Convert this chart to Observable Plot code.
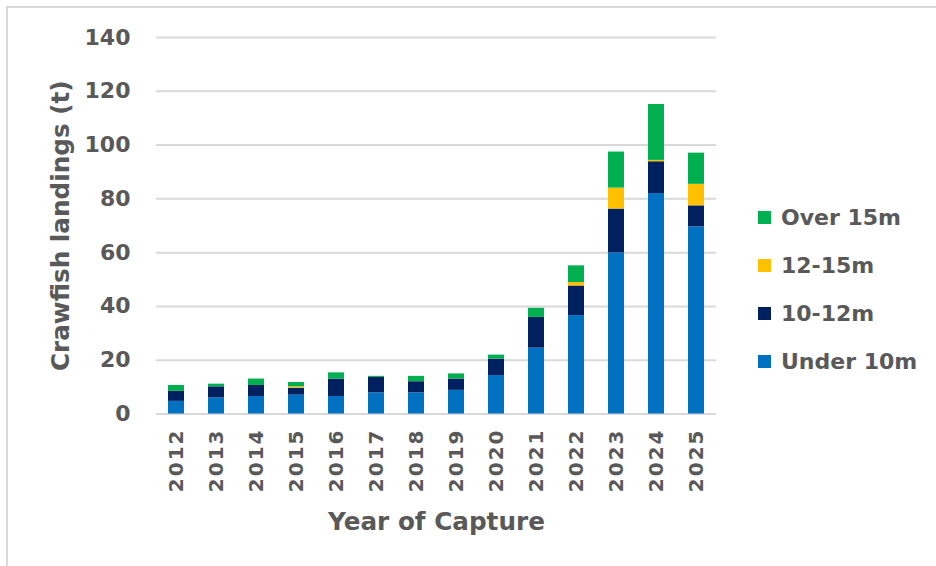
<!DOCTYPE html>
<html>
<head>
<meta charset="utf-8">
<script src="https://cdn.jsdelivr.net/npm/d3@7"></script>
<script src="https://cdn.jsdelivr.net/npm/@observablehq/plot@0.6"></script>
<style>
  html, body { margin: 0; padding: 0; background: #fff; }
  #wrap { position: relative; width: 936px; height: 566px; overflow: hidden; background: #fff; }
  #frame { position: absolute; left: 6px; top: 6px; right: -10px; bottom: -10px;
           border-top: 2px solid #d9d9d9; border-left: 2px solid #d9d9d9; pointer-events: none; }
  #chart svg { display: block; }
  #chart g[aria-label="x-axis tick label"] text { letter-spacing: 2px; }
  #legend { position: absolute; left: 758px; top: 193px;
            font-family: "DejaVu Sans", sans-serif; font-weight: bold;
            font-size: 22px; color: #595959; }
  .row { height: 48px; display: flex; align-items: center; }
  .sw { width: 13px; height: 13px; margin-right: 10px; flex: none; }
</style>
</head>
<body>
<div id="wrap">
  <div id="chart"></div>
  <div id="legend"></div>
  <div id="frame"></div>
</div>
<script>
// Crawfish landings by vessel length, tonnes per year
const years   = ["2012","2013","2014","2015","2016","2017","2018","2019","2020","2021","2022","2023","2024","2025"];
const series  = ["Under 10m", "10-12m", "12-15m", "Over 15m"];
const colors  = ["#0070C0", "#002060", "#FFC000", "#00B050"];
const under10 = [4.7, 6.0, 6.5, 7.0, 6.5, 7.9, 7.9, 8.8, 14.3, 24.5, 36.6, 59.9, 82.0, 69.6];
const m10to12 = [3.7, 4.1, 4.1, 2.6, 6.5, 5.7, 4.1, 4.2, 6.1, 11.4, 11.0, 16.3, 11.8, 7.8];
const m12to15 = [0, 0, 0, 0.5, 0, 0, 0, 0, 0, 0, 1.3, 7.8, 0.5, 8.0];
const over15  = [2.2, 1.0, 2.4, 1.6, 2.3, 0.4, 2.0, 1.9, 1.5, 3.4, 6.2, 13.4, 20.8, 11.6];
const yTicks  = [0, 20, 40, 60, 80, 100, 120, 140];

const columns = [under10, m10to12, m12to15, over15];
const rows = [];
series.forEach((s, si) => {
  years.forEach((yr, i) => rows.push({year: yr, group: s, value: columns[si][i]}));
});

const textColor = "#595959";

const chart = Plot.plot({
  width: 936,
  height: 566,
  marginLeft: 156,
  marginRight: 220,
  marginTop: 37,
  marginBottom: 152.5,
  style: {fontFamily: "'DejaVu Sans', sans-serif", fontWeight: "bold", color: textColor, background: "transparent"},
  x: {domain: years, paddingInner: 0.6, paddingOuter: 0.3, label: null},
  y: {domain: [0, 140], label: null},
  color: {domain: series, range: colors},
  marks: [
    Plot.ruleY(yTicks, {stroke: "#d9d9d9", strokeWidth: 2}),
    Plot.barY(rows, Plot.stackY({order: series}, {x: "year", y: "value", fill: "group", z: "group"})),
    Plot.axisY(yTicks, {tickSize: 0, tickPadding: 26, fontSize: 22, tickFormat: d => String(d), label: null}),
    Plot.axisX({tickSize: 0, tickPadding: 14.5, tickRotate: -90, fontSize: 20, label: null}),
    Plot.text(["Year of Capture"], {frameAnchor: "bottom", dy: 116, lineAnchor: "bottom", textAnchor: "middle",
      fontSize: 24.7, fontWeight: "bold", fill: textColor}),
    Plot.text(["Crawfish landings (t)"], {frameAnchor: "left", dx: -88, rotate: -90, lineAnchor: "bottom",
      textAnchor: "middle", fontSize: 24.7, fontWeight: "bold", fill: textColor})
  ]
});
document.getElementById("chart").append(chart);

// Legend, top series first
const legend = document.getElementById("legend");
series.slice().reverse().forEach(s => {
  const row = document.createElement("div");
  row.className = "row";
  const sw = document.createElement("span");
  sw.className = "sw";
  sw.style.background = chart.scale("color").apply(s);
  const label = document.createElement("span");
  label.textContent = s;
  row.append(sw, label);
  legend.append(row);
});
</script>
</body>
</html>
